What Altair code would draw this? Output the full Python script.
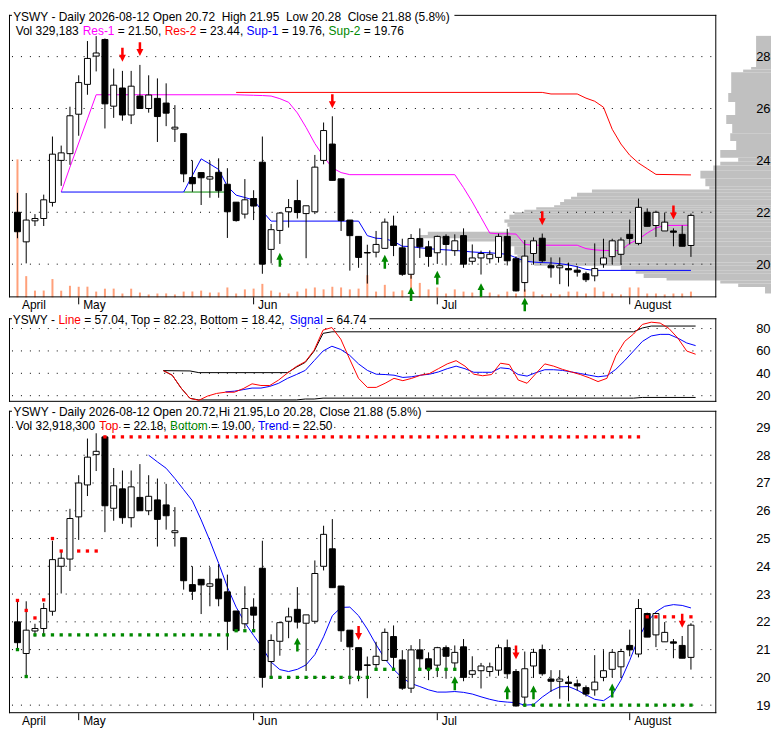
import altair as alt
import pandas as pd

FONT = "Liberation Sans"
BLACK = "#000000"
RED = "#FF0000"
MAGENTA = "#FF00FF"
BLUE = "#0000FF"
GREEN = "#008800"
SALMON = "#FFA07A"
GRAY = "#C0C0C0"

W = 711
H1 = 284
H2 = 96
H2_TOP = 12
H3 = 304
X_DOM = [0.6, 80.33]
P_DOM_TOP = [18.72, 29.61]
P_DOM_BOT = [18.71, 29.60]
OSC_DOM = [14.5, 89.2]
LBL_PAD = 54
PROF_RIGHT = W + 55

# ---------------- data ----------------
month_names = ["April", "May", "Jun", "Jul", "August"]
month_start = [1, 8, 28, 49, 71]

top_open = [22.00, 20.86, 21.67, 21.76, 22.38, 24.00, 24.26, 25.78, 26.93, 28.02,
            28.66, 26.09, 26.79, 25.75, 26.48, 26.00, 26.39, 26.21, 25.21, 25.03,
            23.34, 23.53, 23.28, 23.54, 23.08, 22.39, 21.93, 22.53, 23.93, 20.57,
            21.30, 22.02, 22.45, 21.95, 22.02, 24.00, 24.63, 23.29, 21.70, 21.07,
            20.45, 20.46, 20.61, 21.47, 20.63, 19.61, 20.99, 20.67, 20.44, 21.07,
            20.52, 21.10, 20.11, 20.24, 20.21, 20.26, 21.07, 20.21, 19.29, 20.41,
            21.00, 19.94, 19.86, 19.83, 19.77, 19.63, 19.55, 20.00, 20.29, 20.38,
            21.15, 20.80, 22.00, 21.49, 21.28, 21.28, 21.15, 20.72]
top_high = [22.75, 22.74, 21.93, 22.68, 24.92, 24.57, 26.07, 27.28, 28.60, 28.79,
            28.70, 27.54, 27.45, 27.45, 27.68, 27.28, 27.16, 26.97, 26.13, 25.03,
            24.00, 23.53, 23.97, 24.08, 23.70, 22.39, 23.28, 22.85, 24.92, 21.55,
            22.01, 22.51, 23.25, 22.25, 24.21, 25.46, 25.70, 23.29, 21.70, 21.07,
            20.75, 21.28, 21.76, 21.87, 20.98, 21.16, 21.38, 20.90, 21.10, 21.15,
            21.15, 21.38, 20.76, 20.52, 20.53, 21.18, 21.36, 20.30, 20.93, 21.03,
            21.18, 20.26, 20.26, 20.06, 19.92, 19.71, 20.80, 20.98, 20.98, 21.03,
            21.72, 22.53, 22.15, 22.06, 21.99, 21.38, 21.49, 21.95]
top_low = [21.00, 20.03, 21.47, 21.47, 22.22, 23.02, 23.83, 24.95, 26.53, 27.43,
           25.23, 25.64, 25.53, 25.40, 26.00, 25.84, 24.71, 25.32, 24.71, 23.16,
           22.79, 22.28, 22.56, 22.56, 21.01, 21.64, 21.76, 21.70, 19.63, 20.03,
           20.78, 21.41, 21.76, 20.23, 21.93, 23.85, 23.23, 21.28, 19.75, 19.86,
           19.25, 20.26, 20.61, 20.31, 19.55, 19.44, 20.24, 19.90, 20.01, 19.95,
           20.32, 19.86, 19.98, 19.60, 20.03, 20.06, 19.95, 18.95, 18.94, 19.98,
           20.06, 19.48, 19.23, 19.14, 19.52, 19.31, 19.34, 19.86, 20.01, 19.98,
           20.76, 20.73, 21.46, 21.05, 21.28, 20.69, 20.69, 20.28]
top_close = [21.25, 21.70, 21.76, 22.48, 24.24, 24.29, 25.72, 27.00, 27.93, 28.14,
             26.18, 26.90, 25.75, 26.86, 26.00, 26.52, 25.69, 25.82, 25.28, 23.48,
             23.10, 23.33, 23.37, 22.83, 22.02, 21.68, 22.48, 22.24, 20.00, 21.33,
             21.97, 22.18, 21.99, 22.25, 23.74, 25.15, 23.23, 21.68, 21.10, 20.26,
             20.43, 20.76, 21.62, 20.72, 19.61, 20.99, 20.67, 20.30, 21.07, 20.76,
             20.90, 20.00, 20.24, 20.41, 20.38, 21.07, 20.13, 18.97, 20.31, 20.90,
             20.13, 19.86, 19.94, 19.78, 19.69, 19.40, 19.83, 20.24, 20.90, 20.93,
             20.99, 22.19, 21.46, 22.00, 21.62, 21.23, 20.69, 21.88]
top_volume_k = [7865, 1210, 385, 390, 1045, 380, 660, 605, 610, 330,
                495, 500, 220, 495, 275, 165, 220, 225, 165, 330,
                335, 385, 275, 280, 565, 220, 455, 500, 770, 385,
                275, 220, 330, 500, 565, 455, 605, 565, 455, 500,
                1265, 330, 715, 330, 400, 1265, 825, 455, 565, 220,
                455, 330, 275, 440, 275, 165, 330, 220, 455, 330,
                165, 220, 165, 330, 330, 220, 565, 330, 220, 165,
                565, 565, 220, 220, 165, 220, 220, 329]

bot_open = [22.00, 20.86, 21.67, 21.76, 22.38, 24.00, 24.26, 25.78, 26.93, 28.02,
            28.66, 26.09, 26.79, 25.75, 26.48, 26.00, 26.39, 26.21, 25.21, 25.03,
            23.34, 23.53, 23.28, 23.54, 23.08, 22.39, 21.93, 22.53, 23.93, 20.57,
            21.30, 22.02, 22.45, 21.95, 22.02, 24.00, 24.63, 23.29, 21.70, 21.07,
            20.45, 20.46, 20.61, 21.47, 20.63, 19.61, 20.99, 20.67, 20.44, 21.07,
            20.52, 21.10, 20.11, 20.24, 20.21, 20.26, 21.07, 20.21, 19.29, 20.41,
            21.00, 19.94, 19.86, 19.83, 19.77, 19.63, 19.55, 20.00, 20.29, 20.38,
            21.15, 20.84, 22.30, 21.53, 21.28, 21.28, 21.15, 20.72]
bot_high = [22.75, 22.74, 21.93, 22.68, 24.92, 24.57, 26.07, 27.28, 28.60, 28.79,
            28.70, 27.54, 27.45, 27.45, 27.68, 27.28, 27.16, 26.97, 26.13, 25.03,
            24.00, 23.53, 23.97, 24.08, 23.70, 22.39, 23.28, 22.85, 24.92, 21.55,
            22.01, 22.51, 23.25, 22.25, 24.21, 25.46, 25.70, 23.29, 21.70, 21.07,
            20.75, 21.28, 21.76, 21.87, 20.98, 21.16, 21.38, 20.90, 21.10, 21.15,
            21.15, 21.38, 20.76, 20.52, 20.53, 21.18, 21.36, 20.30, 20.93, 21.03,
            21.18, 20.26, 20.26, 20.06, 19.92, 19.71, 20.80, 20.98, 20.98, 21.03,
            21.72, 22.82, 22.33, 22.33, 21.99, 21.38, 21.49, 21.95]
bot_low = [21.00, 20.03, 21.47, 21.47, 22.22, 23.02, 23.83, 24.95, 26.53, 27.43,
           25.23, 25.64, 25.53, 25.40, 26.00, 25.84, 24.71, 25.32, 24.71, 23.16,
           22.79, 22.28, 22.56, 22.56, 21.01, 21.64, 21.76, 21.70, 19.63, 20.03,
           20.78, 21.41, 21.76, 20.23, 21.93, 23.85, 23.23, 21.28, 19.75, 19.86,
           19.25, 20.26, 20.61, 20.31, 19.55, 19.44, 20.24, 19.90, 20.01, 19.95,
           20.32, 19.86, 19.98, 19.60, 20.03, 20.06, 19.95, 18.95, 18.94, 19.98,
           20.06, 19.48, 19.23, 19.14, 19.52, 19.31, 19.34, 19.86, 20.01, 19.98,
           20.76, 20.72, 21.45, 21.09, 21.28, 20.69, 20.69, 20.28]
bot_close = [21.25, 21.70, 21.76, 22.48, 24.24, 24.29, 25.72, 27.00, 27.93, 28.14,
             26.18, 26.90, 25.75, 26.86, 26.00, 26.52, 25.69, 25.82, 25.28, 23.48,
             23.10, 23.33, 23.37, 22.83, 22.02, 21.68, 22.48, 22.24, 20.00, 21.33,
             21.97, 22.18, 21.99, 22.25, 23.74, 25.15, 23.23, 21.68, 21.10, 20.26,
             20.43, 20.76, 21.62, 20.72, 19.61, 20.99, 20.67, 20.30, 21.07, 20.76,
             20.90, 20.00, 20.24, 20.41, 20.38, 21.07, 20.13, 18.97, 20.31, 20.90,
             20.13, 19.86, 19.94, 19.78, 19.69, 19.40, 19.83, 20.24, 20.90, 20.93,
             20.99, 22.48, 21.45, 22.30, 21.62, 21.23, 20.69, 21.88]

# support / resistance polylines (vertex index, value)
res1_i = [6, 7, 8, 9, 10, 26, 27, 28, 29, 30, 31, 32, 33, 34, 35, 36, 37, 38, 39, 51, 52,
          53, 54, 55, 56, 57, 58, 59, 60, 65, 66, 67, 68, 69, 70, 71, 72, 73, 74, 75, 78]
res1_v = [22.78, 23.74, 24.67, 25.60, 26.53, 26.53, 26.52, 26.51, 26.50, 26.48, 26.38,
          26.24, 25.83, 25.27, 24.65, 24.15, 23.71, 23.53, 23.45, 23.45, 22.95, 22.40,
          21.80, 21.20, 21.17, 21.17, 21.16, 20.76, 20.73, 20.73, 20.60, 20.55, 20.53,
          20.52, 20.53, 20.80, 20.96, 21.20, 21.40, 21.49, 21.50]
res2_i = [26, 61, 62, 65, 66, 67, 68, 69, 70, 71, 72, 73, 74, 78]
res2_v = [26.62, 26.62, 26.56, 26.56, 26.40, 26.28, 26.05, 25.20, 24.63, 24.20, 23.90,
          23.68, 23.46, 23.44]
sup1_i = [6, 20, 21, 22, 23, 24, 25, 26, 27, 28, 29, 30, 40, 41, 42, 43, 44, 45, 46, 47,
          48, 49, 50, 51, 52, 53, 54, 55, 56, 57, 58, 59, 60, 61, 62, 63, 64, 65, 66, 67, 78]
sup1_v = [22.78, 22.78, 23.42, 24.06, 23.86, 23.65, 23.00, 22.66, 22.57, 22.47, 22.04,
          21.66, 21.66, 21.10, 21.00, 20.98, 20.88, 20.69, 20.68, 20.63, 20.60, 20.57,
          20.55, 20.53, 20.50, 20.47, 20.45, 20.44, 20.41, 20.38, 20.25, 20.12, 20.08,
          20.06, 20.05, 20.02, 19.97, 19.90, 19.80, 19.76, 19.76]
sup2_i = [20, 25]
sup2_v = [22.78, 22.78]

top_dn_i = [13, 15, 37, 61, 76]
top_dn_v = [28.07, 28.29, 26.28, 21.77, 21.99]
top_up_i = [31, 43, 46, 49, 54, 59]
top_up_v = [20.17, 20.09, 18.85, 19.48, 19.00, 18.45]

prof_lo = [18.87, 19.12, 19.25, 19.37, 19.47, 19.63, 19.75, 19.94, 20.06, 20.37, 20.69,
           20.87, 21.00, 21.12, 21.25, 21.44, 21.60, 21.72, 21.90, 22.00, 22.10, 22.19,
           22.27, 22.40, 22.50, 22.60, 22.75, 22.88, 23.00, 23.30, 23.60, 23.80, 23.95,
           24.10, 24.40, 24.75, 25.05, 25.40, 25.75, 26.25, 26.60, 27.40, 27.50, 27.60]
prof_hi = [19.12, 19.25, 19.37, 19.47, 19.63, 19.75, 19.94, 20.06, 20.37, 20.69, 20.87,
           21.00, 21.12, 21.25, 21.44, 21.60, 21.72, 21.90, 22.00, 22.10, 22.19, 22.27,
           22.40, 22.50, 22.60, 22.75, 22.88, 23.00, 23.30, 23.60, 23.80, 23.95, 24.10,
           24.40, 24.75, 25.05, 25.40, 25.75, 26.25, 26.60, 27.40, 27.50, 27.60, 28.80]
prof_len = [6, 33, 51, 105, 128, 136, 151, 238, 255, 258, 266, 308, 353, 345, 263, 265,
            268, 263, 258, 248, 236, 218, 212, 208, 201, 195, 180, 62, 66, 71, 58, 51,
            33, 51, 35, 41, 39, 45, 36, 43, 40, 28, 20, 15]

# oscillator panel
osc_start = 18
osc_line = [42.4, 38.3, 26.8, 17.6, 15.9, 19.7, 22.0, 23.1, 23.1, 26.3,
            30.6, 29.1, 29.1, 34.0, 40.3, 46.1, 50.4, 60.7, 78.6, 80.9,
            70.5, 52.7, 35.5, 27.4, 27.4, 31.1, 35.5, 33.4, 35.5, 38.3,
            39.8, 44.1, 48.4, 51.3, 46.4, 39.2, 37.8, 38.9, 49.0, 47.8,
            34.0, 31.1, 39.8, 48.4, 46.4, 43.5, 41.2, 38.9, 36.0, 32.6,
            35.5, 55.6, 68.5, 75.1, 83.7, 85.7, 84.9, 80.0, 71.4, 59.9, 57.04]
sig_start = 25
osc_signal = [23.4, 24.0, 25.4, 26.8, 26.8, 28.3, 31.1, 35.5, 38.9, 42.6,
              51.3, 59.9, 64.2, 61.3, 56.1, 48.4, 42.6, 39.2, 38.9, 38.3,
              36.3, 36.9, 38.3, 39.2, 41.2, 44.1, 46.4, 44.1, 40.9, 40.9,
              40.9, 44.9, 44.1, 38.9, 37.5, 40.6, 43.2, 43.2, 42.6, 41.2,
              39.8, 38.3, 36.9, 37.8, 43.5, 51.3, 59.9, 68.5, 73.4, 74.8,
              74.8, 71.4, 67.1, 64.74]
band_top_i = [18, 21, 22, 32, 33, 34, 35, 36, 37, 71, 72, 73, 78]
band_top_v = [42.4, 42.1, 40.6, 40.6, 45.5, 49.8, 59.9, 75.7, 77.1, 77.1, 80.5, 82.23, 82.23]
band_bot_i = [18, 19, 20, 21, 22, 33, 34, 35, 36, 71, 72, 78]
band_bot_v = [42.4, 38.3, 26.8, 17.6, 16.2, 16.2, 17.0, 17.0, 17.8, 17.8, 18.42, 18.42]

# bottom panel
trend_start = 16
trend = [28.00, 27.76, 27.53, 27.16, 26.76, 26.36, 25.67, 24.92, 24.11, 23.25,
         22.53, 21.97, 21.51, 21.07, 20.55, 20.28, 20.21, 20.29, 20.45, 20.82,
         21.46, 22.22, 22.52, 22.53, 22.22, 21.74, 21.18, 20.67, 20.29, 19.98,
         19.78, 19.67, 19.55, 19.47, 19.47, 19.49, 19.46, 19.40, 19.30, 19.21,
         19.14, 19.11, 19.09, 19.00, 19.02, 19.29, 19.51, 19.66, 19.67, 19.54,
         19.37, 19.21, 19.16, 19.37, 19.90, 20.61, 21.41, 21.99, 22.36, 22.56,
         22.62, 22.59, 22.50]
red_levels = [(1, 1, 22.77), (2, 2, 22.41), (3, 3, 22.14), (4, 4, 22.79), (5, 5, 25.00),
              (6, 6, 24.55), (8, 10, 24.55), (11, 72, 28.66), (73, 76, 22.18), (78, 78, 22.18)]
green_levels = [(1, 1, 21.00), (2, 2, 20.03), (3, 25, 21.53), (26, 28, 21.68), (30, 41, 20.00),
                (42, 44, 20.29), (47, 51, 20.29), (59, 78, 19.00)]
bot_up_i = [33, 51, 57, 60, 69]
bot_up_v = [21.18, 19.79, 19.46, 19.46, 19.53]
bot_dn_i = [40, 58, 77]
bot_dn_v = [21.60, 20.90, 22.04]

# ---------------- helpers ----------------
AW = {' ': 278, '\u00a0': 278, '%': 889, '(': 333, ')': 333, ',': 278, '-': 333, '.': 278,
      '=': 584, ':': 278,
      'A': 667, 'B': 667, 'C': 722, 'D': 722, 'E': 667, 'F': 611, 'G': 778, 'H': 722,
      'I': 278, 'J': 500, 'K': 667, 'L': 556, 'M': 833, 'N': 722, 'O': 778, 'P': 667,
      'Q': 778, 'R': 722, 'S': 667, 'T': 611, 'U': 722, 'V': 667, 'W': 944, 'X': 667,
      'Y': 667, 'Z': 611,
      'a': 556, 'b': 556, 'c': 500, 'd': 556, 'e': 556, 'f': 278, 'g': 556, 'h': 556,
      'i': 222, 'j': 222, 'k': 500, 'l': 222, 'm': 833, 'n': 556, 'o': 556, 'p': 556,
      'q': 556, 'r': 333, 's': 500, 't': 278, 'u': 556, 'v': 500, 'w': 722, 'x': 500,
      'y': 500, 'z': 500}


def tw(s, size=12):
    return sum(AW.get(ch, 556) for ch in s) * size / 1000.0


ONE = pd.DataFrame({"k": [0]})
UP = "M0,-1L0.5,0L0.18,0L0.18,1L-0.18,1L-0.18,0L-0.5,0Z"
DOWN = "M0,1L0.5,0L0.18,0L0.18,-1L-0.18,-1L-0.18,0L-0.5,0Z"


def text_line(segments, x0, y):
    layers = []
    x = x0
    for s, col in segments:
        lead = len(s) - len(s.lstrip(' '))
        core = s.strip(' ')
        layers.append(alt.Chart(ONE).mark_text(
            text=core, color=col, font=FONT, fontSize=12, align="left",
            baseline="alphabetic").encode(x=alt.value(x + tw(' ' * lead)), y=alt.value(y)))
        x += tw(s)
    return layers, x


def rule(**enc):
    return alt.Chart(ONE).mark_rule(color=BLACK, strokeWidth=1).encode(**enc)


def frame(y0, y1, gap_a, gap_b):
    return [
        rule(x=alt.value(0.5), y=alt.value(y0), y2=alt.value(y1)),
        rule(x=alt.value(W - 0.5), y=alt.value(y0), y2=alt.value(y1)),
        rule(x=alt.value(0), x2=alt.value(W), y=alt.value(y1 - 0.5)),
        rule(x=alt.value(0), x2=alt.value(gap_a), y=alt.value(y0 + 0.5)),
        rule(x=alt.value(gap_b), x2=alt.value(W), y=alt.value(y0 + 0.5)),
    ]


def xscale():
    return alt.Scale(domain=X_DOM, nice=False, zero=False)


label_expr = " : ".join(
    f"datum.value == {m} ? '{n}'" for m, n in zip(month_start, month_names)) + " : ''"
AX_MONTH = alt.Axis(values=month_start, labelExpr=label_expr, ticks=False, domain=False,
                    grid=False, labelAlign="left", labelOffset=4, labelPadding=2,
                    labelFont=FONT, labelFontSize=12, labelColor=BLACK, title=None,
                    labelFlush=False, labelOverlap=False)


def yaxis(vals):
    return alt.Axis(values=vals, orient="right", ticks=False, domain=False, grid=False,
                    labelAlign="right", labelPadding=LBL_PAD, labelBaseline="middle",
                    labelFont=FONT, labelFontSize=13, labelColor=BLACK, title=None,
                    labelFlush=False, labelOverlap=False, zindex=1)


def grid_layer(vals, yenc_fn):
    return alt.Chart(pd.DataFrame({"g": vals})).mark_rule(
        color=BLACK, strokeWidth=1, strokeDash=[1, 8], strokeDashOffset=6
    ).encode(y=yenc_fn("g"), x=alt.value(0), x2=alt.value(W))


def candles(df, X, yenc_fn):
    wick = alt.Chart(df).mark_rule(color=BLACK, strokeWidth=1).encode(
        x=X, y=yenc_fn("l"), y2="h:Q")
    body = alt.Chart(df).mark_bar(size=6, stroke=BLACK, strokeWidth=1).encode(
        x=X, y=yenc_fn("o"), y2="c:Q",
        fill=alt.condition("datum.o > datum.c", alt.value(BLACK), alt.value("white")))
    return [wick, body]


def arrows(ii, vv, shape, col, X, yenc_fn):
    return alt.Chart(pd.DataFrame({"i": ii, "v": vv})).mark_point(
        shape=shape, filled=True, size=196, opacity=1, color=col, strokeWidth=0
    ).encode(x=X, y=yenc_fn("v"))


def month_ticks(X, h):
    return alt.Chart(pd.DataFrame({"i": month_start[1:]})).mark_rule(
        color=BLACK, strokeWidth=1).encode(x=X, y=alt.value(h), y2=alt.value(h + 7))


def poly(ii, vv, col, X, yenc_fn):
    return alt.Chart(pd.DataFrame({"i": ii, "v": vv})).mark_line(
        color=col, strokeWidth=1).encode(x=X, y=yenc_fn("v"))


# ---------------- top panel ----------------
X_TOP = alt.X("i:Q", scale=xscale(), axis=AX_MONTH)
AY_TOP = yaxis([20, 22, 24, 26, 28])


def y_top(f):
    return alt.Y(f"{f}:Q", scale=alt.Scale(domain=P_DOM_TOP, nice=False, zero=False),
                 axis=AY_TOP)


top_df = pd.DataFrame({"i": list(range(1, 79)), "o": top_open, "h": top_high,
                       "l": top_low, "c": top_close})

t1, t1_end = text_line([("YSWY - Daily 2026-08-12 Open 20.72\u00a0 High 21.95\u00a0 Low 20.28\u00a0 Close 21.88 (5.8%)", BLACK)], 4.2, 5.7)
t2, _ = text_line([("Vol 329,183 ", BLACK), ("Res-1", MAGENTA), (" = 21.50, ", BLACK),
                   ("Res-2", RED), (" = 23.44, ", BLACK), ("Sup-1", BLUE),
                   (" = 19.76, ", BLACK), ("Sup-2", GREEN), (" = 19.76", BLACK)], 6.7, 20)

price_block = alt.layer(
    grid_layer([20, 22, 24, 26, 28], y_top),
    *frame(0, H1, 3, t1_end + 4),
    poly(res2_i, res2_v, RED, X_TOP, y_top),
    poly(res1_i, res1_v, MAGENTA, X_TOP, y_top),
    poly(sup2_i, sup2_v, GREEN, X_TOP, y_top),
    poly(sup1_i, sup1_v, BLUE, X_TOP, y_top),
    *candles(top_df, X_TOP, y_top),
    arrows(top_dn_i, top_dn_v, DOWN, RED, X_TOP, y_top),
    arrows(top_up_i, top_up_v, UP, GREEN, X_TOP, y_top),
    *t1, *t2,
    month_ticks(X_TOP, H1),
)

vol_block = alt.Chart(pd.DataFrame({"i": list(range(1, 79)), "v": top_volume_k})).mark_bar(
    size=2, color=SALMON).encode(
    x=alt.X("i:Q", scale=xscale(), axis=None),
    y=alt.Y("v:Q", scale=alt.Scale(domain=[0, 16100], nice=False), axis=None))

prof_block = alt.Chart(pd.DataFrame({"z": [0] * len(prof_len), "len": prof_len,
                                     "lo": prof_lo, "hi": prof_hi})).mark_rect(
    color=GRAY).encode(
    x=alt.X("z:Q", scale=alt.Scale(domain=[0, 400], range=[PROF_RIGHT, PROF_RIGHT - 400]),
            axis=None),
    x2="len:Q",
    y=alt.Y("lo:Q", scale=alt.Scale(domain=P_DOM_TOP, nice=False, zero=False), axis=None),
    y2="hi:Q")

top = alt.layer(prof_block, vol_block, price_block).resolve_scale(
    x="independent", y="independent").properties(width=W, height=H1)

# ---------------- middle panel ----------------
X_MID = alt.X("i:Q", scale=xscale(), axis=None)
AY_MID = yaxis([20, 40, 60, 80])


def y_mid(f):
    return alt.Y(f"{f}:Q", scale=alt.Scale(domain=OSC_DOM, range=[H2, H2_TOP], nice=False,
                                           zero=False), axis=AY_MID)


m1, m1_end = text_line([("YSWY - ", BLACK), ("Line", RED),
                        (" = 57.04, Top = 82.23, Bottom = 18.42, ", BLACK),
                        ("Signal", BLUE), (" = 64.74", BLACK)], 3.7, H2_TOP + 5.7)

mid = alt.layer(
    grid_layer([20, 40, 60, 80], y_mid),
    *frame(H2_TOP, H2, 3, m1_end + 3),
    poly(band_bot_i, band_bot_v, BLACK, X_MID, y_mid),
    poly(band_top_i, band_top_v, BLACK, X_MID, y_mid),
    poly(list(range(sig_start, sig_start + len(osc_signal))), osc_signal, BLUE, X_MID, y_mid),
    poly(list(range(osc_start, osc_start + len(osc_line))), osc_line, RED, X_MID, y_mid),
    *m1,
).properties(width=W, height=H2)

# ---------------- bottom panel ----------------
X_BOT = alt.X("i:Q", scale=xscale(), axis=AX_MONTH)
AY_BOT = yaxis(list(range(19, 30)))


def y_bot(f):
    return alt.Y(f"{f}:Q", scale=alt.Scale(domain=P_DOM_BOT, nice=False, zero=False),
                 axis=AY_BOT)


bot_df = pd.DataFrame({"i": list(range(1, 79)), "o": bot_open, "h": bot_high,
                       "l": bot_low, "c": bot_close})


def level_points(levels):
    rows = [{"i": i, "v": v} for a, b, v in levels for i in range(a, b + 1)]
    return pd.DataFrame(rows)


def squares(levels, col):
    return alt.Chart(level_points(levels)).mark_square(
        size=11, opacity=1, color=col, strokeWidth=0).encode(x=X_BOT, y=y_bot("v"))


b1, b1_end = text_line([("YSWY - Daily 2026-08-12 Open 20.72,Hi 21.95,Lo 20.28, Close 21.88 (5.8%)", BLACK)], 4.5, 5.2)
b2, _ = text_line([("Vol 32,918,300 ", BLACK), ("Top", RED), (" = 22.18, ", BLACK),
                   ("Bottom", GREEN), (" = 19.00, ", BLACK), ("Trend", BLUE),
                   (" = 22.50", BLACK)], 6.7, 19.7)

bot = alt.layer(
    grid_layer(list(range(19, 30)), y_bot),
    *frame(0, H3, 3, b1_end + 4),
    poly(list(range(trend_start, trend_start + len(trend))), trend, BLUE, X_BOT, y_bot),
    *candles(bot_df, X_BOT, y_bot),
    squares(red_levels, RED),
    squares(green_levels, GREEN),
    arrows(bot_up_i, bot_up_v, UP, GREEN, X_BOT, y_bot),
    arrows(bot_dn_i, bot_dn_v, DOWN, RED, X_BOT, y_bot),
    *b1, *b2,
    month_ticks(X_BOT, H3),
).properties(width=W, height=H3)

chart = alt.vconcat(top, mid, bot, spacing=9, bounds="flush").properties(
    padding=0, background="white").configure_view(stroke="transparent")

chart.save("out.html", embed_options={"renderer": "svg", "actions": False})
